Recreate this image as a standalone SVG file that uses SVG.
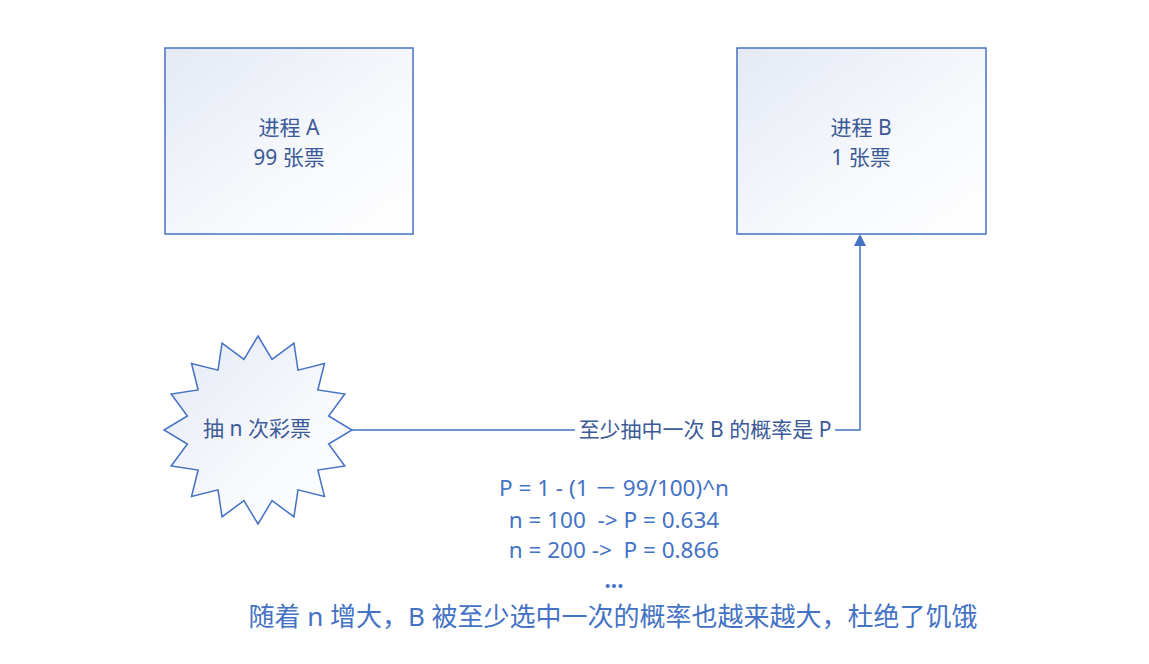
<svg xmlns="http://www.w3.org/2000/svg" width="1149" height="664" viewBox="0 0 1149 664">
<style>
.box{stroke:#4472C4;stroke-width:1.5;fill:url(#g)}
.t{font-family:"Noto Sans","Noto Sans CJK SC",sans-serif;font-size:21px;fill:#3B5A97;text-anchor:middle}
.f{font-family:"Noto Sans","Noto Sans CJK SC",sans-serif;font-size:22.5px;fill:#4472C4;text-anchor:middle;white-space:pre}
.b{font-family:"Noto Sans","Noto Sans CJK SC",sans-serif;font-size:26px;fill:#4472C4;text-anchor:middle}
.ln{stroke:#4472C4;stroke-width:1.5;fill:none}
</style>
<defs>
<linearGradient id="g" x1="0" y1="0" x2="1" y2="1">
<stop offset="0" stop-color="#E4E9F4"/>
<stop offset="0.6" stop-color="#F7F9FC"/>
<stop offset="1" stop-color="#FFFFFF"/>
</linearGradient>
<marker id="ah" markerWidth="12" markerHeight="12" refX="10" refY="6" orient="auto" markerUnits="userSpaceOnUse">
<path d="M0,0 L12,6 L0,12 Z" fill="#4472C4"/>
</marker>
</defs>
<rect width="1149" height="664" fill="#FFFFFF"/>
<g id="connectors">
<path class="ln" d="M352,430 H860 V236" marker-end="url(#ah)"/>
<rect x="575" y="416" width="260" height="28" fill="#FFFFFF"/>
<text class="t" x="705" y="437">至少抽中一次 B 的概率是 P</text>
</g>
<g id="nodeA">
<rect class="box" x="165" y="48" width="248" height="186"/>
<text class="t" x="289" y="135">进程 A</text>
<text class="t" x="289" y="165">99 张票</text>
</g>
<g id="nodeB">
<rect class="box" x="737" y="48" width="249" height="186"/>
<text class="t" x="861" y="135">进程 B</text>
<text class="t" x="861" y="165">1 张票</text>
</g>
<g id="star">
<path class="box" d="M258,336 L272.05,359.38 L293.97,343.16 L298,370.13 L324.47,363.53 L317.87,390 L344.84,394.03 L328.62,415.95 L352,430 L328.62,444.05 L344.84,465.97 L317.87,470 L324.47,496.47 L298,489.87 L293.97,516.84 L272.05,500.62 L258,524 L243.95,500.62 L222.03,516.84 L218,489.87 L191.53,496.47 L198.13,470 L171.16,465.97 L187.38,444.05 L164,430 L187.38,415.95 L171.16,394.03 L198.13,390 L191.53,363.53 L218,370.13 L222.03,343.16 L243.95,359.38 Z"/>
<text class="t" x="257" y="436">抽 n 次彩票</text>
</g>
<g id="formula">
<text class="f" x="614" y="496" xml:space="preserve">P = 1 - (1 － 99/100)^n</text>
<text class="f" x="614" y="528" xml:space="preserve">n = 100  -&gt; P = 0.634</text>
<text class="f" x="614" y="558" xml:space="preserve">n = 200 -&gt;  P = 0.866</text>
<text class="f" x="614" y="588" font-weight="bold">...</text>
</g>
<g id="note">
<text class="b" x="613" y="626">随着 n 增大，B 被至少选中一次的概率也越来越大，杜绝了饥饿</text>
</g>
</svg>
